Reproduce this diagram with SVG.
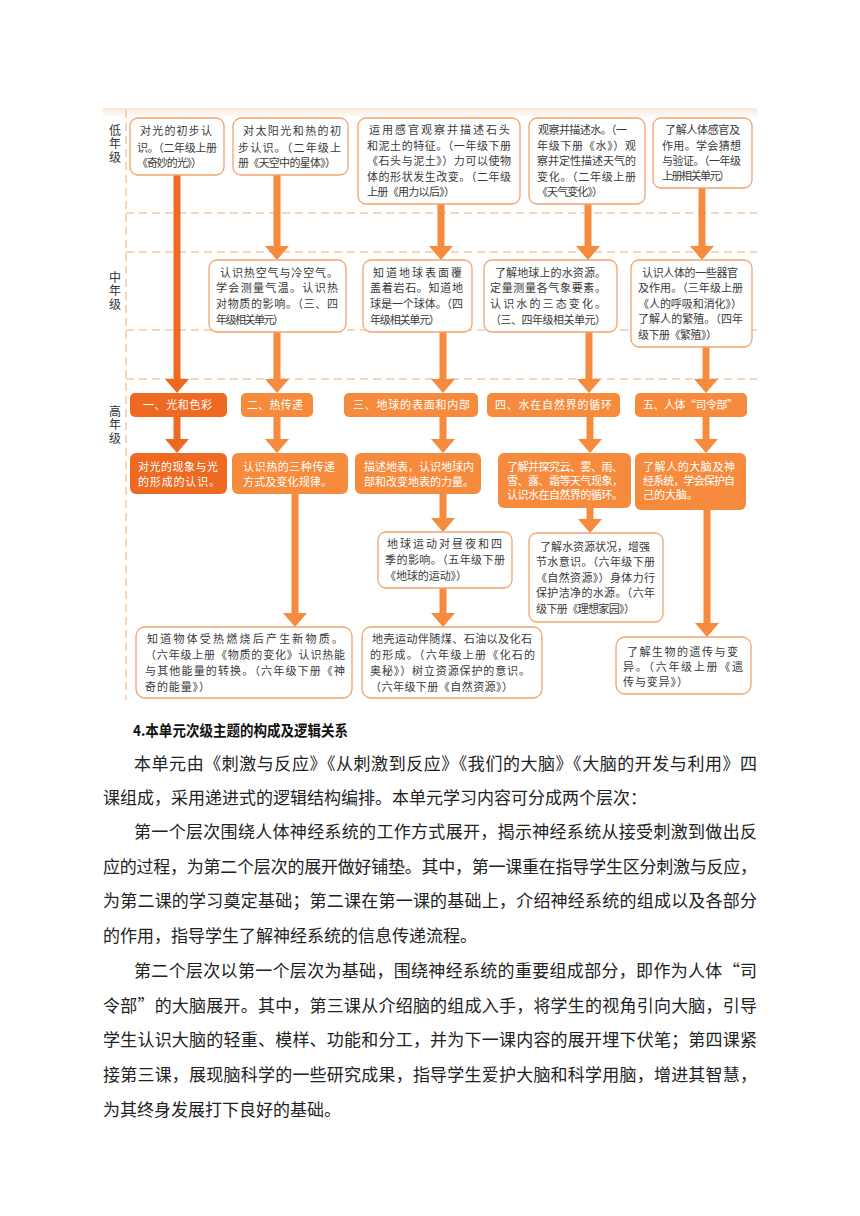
<svg xmlns="http://www.w3.org/2000/svg" width="860" height="1216" viewBox="0 0 860 1216">
<defs>
<linearGradient id="topband" x1="0" y1="0" x2="0" y2="1">
<stop offset="0" stop-color="#f9e6d6"/>
<stop offset="1" stop-color="#ffffff"/>
</linearGradient>
<style>
text{font-family:"Noto Sans CJK SC","Noto Sans",sans-serif;}
.t{font-size:11px;fill:#3a3a3a;}
.w{font-size:11px;fill:#ffffff;}
.lab{font-size:12px;fill:#333;writing-mode:vertical-rl;letter-spacing:1.5px;}
.box{fill:#ffffff;stroke:#f2a46e;stroke-width:1.3;}
.dk{fill:#ee6a23;}
.lt{fill:#f68b3e;}
.dash{stroke:#f6c7a3;stroke-width:1.5;stroke-dasharray:8 5;fill:none;}
.body{font-size:17px;fill:#222;}
.head{font-size:15px;font-weight:bold;fill:#111;}
</style>
</defs>
<rect x="0" y="0" width="860" height="1216" fill="#ffffff"/>
<rect x="103" y="108" width="654" height="10" fill="url(#topband)"/>

<g id="grid">
<line class="dash" x1="126" y1="110" x2="126" y2="700"/>
<line class="dash" x1="126" y1="213" x2="757" y2="213"/>
<line class="dash" x1="126" y1="252" x2="757" y2="252"/>
<line class="dash" x1="126" y1="330" x2="757" y2="330"/>
<line class="dash" x1="126" y1="379" x2="757" y2="379"/>
</g>

<g id="row-labels">
<text class="lab" x="115" y="124">低年级</text>
<text class="lab" x="115" y="271">中年级</text>
<text class="lab" x="115" y="405">高年级</text>
</g>

<g id="connectors">
<path class="dk" d="M173.5 175 H180.5 V379 H189 L177 393 L165 379 H173.5 Z"/>
<path class="dk" d="M173.5 417 H180.5 V439 H189 L177 453 L165 439 H173.5 Z"/>
<path class="lt" d="M273.5 175 H280.5 V246 H289 L277 260 L265 246 H273.5 Z"/>
<path class="lt" d="M273.5 332 H280.5 V379 H289 L277 393 L265 379 H273.5 Z"/>
<path class="lt" d="M273.5 417 H280.5 V439 H289 L277 453 L265 439 H273.5 Z"/>
<path class="lt" d="M291.5 494 H298.5 V613 H307 L295 627 L283 613 H291.5 Z"/>
<path class="lt" d="M437.5 204 H444.5 V246 H453 L441 260 L429 246 H437.5 Z"/>
<path class="lt" d="M439.5 332 H446.5 V379 H455 L443 393 L431 379 H439.5 Z"/>
<path class="lt" d="M439.5 417 H446.5 V439 H455 L443 453 L431 439 H439.5 Z"/>
<path class="lt" d="M439.5 494 H446.5 V518 H455 L443 532 L431 518 H439.5 Z"/>
<path class="lt" d="M439.5 588 H446.5 V613 H455 L443 627 L431 613 H439.5 Z"/>
<path class="lt" d="M584.5 204 H591.5 V246 H600 L588 260 L576 246 H584.5 Z"/>
<path class="lt" d="M585.5 332 H592.5 V379 H601 L589 393 L577 379 H585.5 Z"/>
<path class="lt" d="M586.5 417 H593.5 V439 H602 L590 453 L578 439 H586.5 Z"/>
<path class="lt" d="M586.5 508 H593.5 V519 H602 L590 533 L578 519 H586.5 Z"/>
<path class="lt" d="M698.5 188 H705.5 V246 H714 L702 260 L690 246 H698.5 Z"/>
<path class="lt" d="M702.5 347 H709.5 V379 H718 L706 393 L694 379 H702.5 Z"/>
<path class="lt" d="M702.5 417 H709.5 V439 H718 L706 453 L694 439 H702.5 Z"/>
<path class="lt" d="M703.5 510 H710.5 V623 H719 L707 637 L695 623 H703.5 Z"/>
</g>

<g id="low-1">
<rect class="box" x="130" y="118" width="94" height="57" rx="8"/>
<text class="t" x="140" y="135" textLength="72" lengthAdjust="spacing">对光的初步认</text>
<text class="t" x="137" y="152" textLength="80" lengthAdjust="spacing">识。（二年级上册</text>
<text class="t" x="137" y="167" textLength="65" lengthAdjust="spacing">《奇妙的光》）</text>
</g>
<g id="low-2">
<rect class="box" x="233" y="118" width="115" height="57" rx="8"/>
<text class="t" x="243" y="135" textLength="98" lengthAdjust="spacing">对太阳光和热的初</text>
<text class="t" x="238" y="152" textLength="103" lengthAdjust="spacing">步认识。（二年级上</text>
<text class="t" x="238" y="167" textLength="98" lengthAdjust="spacing">册《天空中的星体》）</text>
</g>
<g id="low-3">
<rect class="box" x="358" y="118" width="162" height="86" rx="8"/>
<text class="t" x="369" y="134" textLength="141" lengthAdjust="spacing">运用感官观察并描述石头</text>
<text class="t" x="367" y="150" textLength="144" lengthAdjust="spacing">和泥土的特征。（一年级下册</text>
<text class="t" x="367" y="165" textLength="144" lengthAdjust="spacing">《石头与泥土》）力可以使物</text>
<text class="t" x="367" y="181" textLength="144" lengthAdjust="spacing">体的形状发生改变。（二年级</text>
<text class="t" x="367" y="196" textLength="88" lengthAdjust="spacing">上册《用力以后》）</text>
</g>
<g id="low-4">
<rect class="box" x="529" y="118" width="116" height="86" rx="8"/>
<text class="t" x="538" y="134" textLength="89" lengthAdjust="spacing">观察并描述水。（一</text>
<text class="t" x="537" y="150" textLength="99" lengthAdjust="spacing">年级下册《水》）观</text>
<text class="t" x="537" y="165" textLength="99" lengthAdjust="spacing">察并定性描述天气的</text>
<text class="t" x="537" y="181" textLength="99" lengthAdjust="spacing">变化。（二年级上册</text>
<text class="t" x="537" y="196" textLength="66" lengthAdjust="spacing">《天气变化》）</text>
</g>
<g id="low-5">
<rect class="box" x="653" y="118" width="99" height="70" rx="8"/>
<text class="t" x="665" y="134" textLength="75" lengthAdjust="spacing">了解人体感官及</text>
<text class="t" x="662" y="150" textLength="79" lengthAdjust="spacing">作用。学会猜想</text>
<text class="t" x="662" y="165" textLength="79" lengthAdjust="spacing">与验证。（一年级</text>
<text class="t" x="662" y="180" textLength="68" lengthAdjust="spacing">上册相关单元）</text>
</g>

<g id="mid-2">
<rect class="box" x="209" y="260" width="137" height="72" rx="8"/>
<text class="t" x="220" y="277" textLength="118" lengthAdjust="spacing">认识热空气与冷空气。</text>
<text class="t" x="216" y="292" textLength="122" lengthAdjust="spacing">学会测量气温。认识热</text>
<text class="t" x="216" y="308" textLength="122" lengthAdjust="spacing">对物质的影响。（三、四</text>
<text class="t" x="216" y="324" textLength="68" lengthAdjust="spacing">年级相关单元）</text>
</g>
<g id="mid-3">
<rect class="box" x="363" y="260" width="109" height="72" rx="8"/>
<text class="t" x="373" y="277" textLength="89" lengthAdjust="spacing">知道地球表面覆</text>
<text class="t" x="370" y="292" textLength="93" lengthAdjust="spacing">盖着岩石。知道地</text>
<text class="t" x="370" y="308" textLength="93" lengthAdjust="spacing">球是一个球体。（四</text>
<text class="t" x="370" y="324" textLength="70" lengthAdjust="spacing">年级相关单元）</text>
</g>
<g id="mid-4">
<rect class="box" x="484" y="260" width="133" height="72" rx="8"/>
<text class="t" x="495" y="277" textLength="111" lengthAdjust="spacing">了解地球上的水资源。</text>
<text class="t" x="490" y="292" textLength="116" lengthAdjust="spacing">定量测量各气象要素。</text>
<text class="t" x="490" y="308" textLength="116" lengthAdjust="spacing">认识水的三态变化。</text>
<text class="t" x="490" y="324" textLength="116" lengthAdjust="spacing">（三、四年级相关单元）</text>
</g>
<g id="mid-5">
<rect class="box" x="631" y="260" width="121" height="87" rx="8"/>
<text class="t" x="642" y="277" textLength="96" lengthAdjust="spacing">认识人体的一些器官</text>
<text class="t" x="638" y="292" textLength="105" lengthAdjust="spacing">及作用。（三年级上册</text>
<text class="t" x="638" y="308" textLength="104" lengthAdjust="spacing">《人的呼吸和消化》）</text>
<text class="t" x="638" y="323" textLength="105" lengthAdjust="spacing">了解人的繁殖。（四年</text>
<text class="t" x="638" y="339" textLength="79" lengthAdjust="spacing">级下册《繁殖》）</text>
</g>

<g id="unit-1">
<rect class="dk" x="130" y="393" width="97" height="24" rx="5"/>
<text class="w" x="143" y="409" textLength="69" lengthAdjust="spacing">一、光和色彩</text>
</g>
<g id="unit-2">
<rect class="lt" x="241" y="393" width="72" height="24" rx="5"/>
<text class="w" x="247" y="409" textLength="56" lengthAdjust="spacing">二、热传递</text>
</g>
<g id="unit-3">
<rect class="lt" x="344" y="393" width="134" height="24" rx="5"/>
<text class="w" x="353" y="409" textLength="117" lengthAdjust="spacing">三、地球的表面和内部</text>
</g>
<g id="unit-4">
<rect class="lt" x="487" y="393" width="133" height="24" rx="5"/>
<text class="w" x="495" y="409" textLength="117" lengthAdjust="spacing">四、水在自然界的循环</text>
</g>
<g id="unit-5">
<rect class="lt" x="635" y="393" width="112" height="24" rx="5"/>
<text class="w" x="643" y="409" textLength="95" lengthAdjust="spacing">五、人体“司令部”</text>
</g>

<g id="goal-1">
<rect class="dk" x="130" y="453" width="97" height="41" rx="6"/>
<text class="w" x="138" y="471" textLength="80" lengthAdjust="spacing">对光的现象与光</text>
<text class="w" x="138" y="486" textLength="82" lengthAdjust="spacing">的形成的认识。</text>
</g>
<g id="goal-2">
<rect class="lt" x="232" y="453" width="116" height="41" rx="6"/>
<text class="w" x="243" y="471" textLength="92" lengthAdjust="spacing">认识热的三种传递</text>
<text class="w" x="243" y="486" textLength="89" lengthAdjust="spacing">方式及变化规律。</text>
</g>
<g id="goal-3">
<rect class="lt" x="355" y="453" width="126" height="41" rx="6"/>
<text class="w" x="364" y="471" textLength="110" lengthAdjust="spacing">描述地表，认识地球内</text>
<text class="w" x="364" y="486" textLength="110" lengthAdjust="spacing">部和改变地表的力量。</text>
</g>
<g id="goal-4">
<rect class="lt" x="498" y="453" width="133" height="55" rx="6"/>
<text class="w" x="507" y="471" textLength="116" lengthAdjust="spacing">了解并探究云、雾、雨、</text>
<text class="w" x="507" y="485" textLength="116" lengthAdjust="spacing">雪、露、霜等天气现象，</text>
<text class="w" x="507" y="499" textLength="116" lengthAdjust="spacing">认识水在自然界的循环。</text>
</g>
<g id="goal-5">
<rect class="lt" x="635" y="453" width="111" height="57" rx="6"/>
<text class="w" x="643" y="471" textLength="92" lengthAdjust="spacing">了解人的大脑及神</text>
<text class="w" x="643" y="485" textLength="92" lengthAdjust="spacing">经系统，学会保护自</text>
<text class="w" x="643" y="499" textLength="55" lengthAdjust="spacing">己的大脑。</text>
</g>

<g id="earth-motion">
<rect class="box" x="378" y="532" width="134" height="56" rx="8"/>
<text class="t" x="387" y="548" textLength="115" lengthAdjust="spacing">地球运动对昼夜和四</text>
<text class="t" x="385" y="564" textLength="120" lengthAdjust="spacing">季的影响。（五年级下册</text>
<text class="t" x="385" y="580" textLength="82" lengthAdjust="spacing">《地球的运动》）</text>
</g>
<g id="water-resources">
<rect class="box" x="529" y="533" width="134" height="89" rx="8"/>
<text class="t" x="540" y="551" textLength="110" lengthAdjust="spacing">了解水资源状况，增强</text>
<text class="t" x="536" y="566" textLength="119" lengthAdjust="spacing">节水意识。（六年级下册</text>
<text class="t" x="536" y="582" textLength="119" lengthAdjust="spacing">《自然资源》）身体力行</text>
<text class="t" x="536" y="597" textLength="119" lengthAdjust="spacing">保护洁净的水源。（六年</text>
<text class="t" x="536" y="613" textLength="99" lengthAdjust="spacing">级下册《理想家园》）</text>
</g>
<g id="heat-energy">
<rect class="box" x="136" y="627" width="216" height="71" rx="9"/>
<text class="t" x="147" y="643" textLength="196" lengthAdjust="spacing">知道物体受热燃烧后产生新物质。</text>
<text class="t" x="145" y="659" textLength="200" lengthAdjust="spacing">（六年级上册《物质的变化》认识热能</text>
<text class="t" x="145" y="675" textLength="200" lengthAdjust="spacing">与其他能量的转换。（六年级下册《神</text>
<text class="t" x="145" y="691" textLength="65" lengthAdjust="spacing">奇的能量》）</text>
</g>
<g id="crust-motion">
<rect class="box" x="362" y="627" width="180" height="71" rx="9"/>
<text class="t" x="372" y="643" textLength="160" lengthAdjust="spacing">地壳运动伴随煤、石油以及化石</text>
<text class="t" x="370" y="659" textLength="165" lengthAdjust="spacing">的形成。（六年级上册《化石的</text>
<text class="t" x="370" y="675" textLength="160" lengthAdjust="spacing">奥秘》）树立资源保护的意识。</text>
<text class="t" x="370" y="691" textLength="143" lengthAdjust="spacing">（六年级下册《自然资源》）</text>
</g>
<g id="heredity">
<rect class="box" x="616" y="637" width="135" height="57" rx="9"/>
<text class="t" x="627" y="656" textLength="111" lengthAdjust="spacing">了解生物的遗传与变</text>
<text class="t" x="623" y="671" textLength="120" lengthAdjust="spacing">异。（六年级上册《遗</text>
<text class="t" x="623" y="686" textLength="65" lengthAdjust="spacing">传与变异》）</text>
</g>

<g id="body-text">
<text class="head" x="133" y="736" textLength="215" lengthAdjust="spacingAndGlyphs">4.本单元次级主题的构成及逻辑关系</text>
<text class="body" x="134" y="770" textLength="623" lengthAdjust="spacing">本单元由《刺激与反应》《从刺激到反应》《我们的大脑》《大脑的开发与利用》四</text>
<text class="body" x="103" y="804">课组成，采用递进式的逻辑结构编排。本单元学习内容可分成两个层次：</text>
<text class="body" x="134" y="838" textLength="623" lengthAdjust="spacing">第一个层次围绕人体神经系统的工作方式展开，揭示神经系统从接受刺激到做出反</text>
<text class="body" x="103" y="873" textLength="654" lengthAdjust="spacing">应的过程，为第二个层次的展开做好铺垫。其中，第一课重在指导学生区分刺激与反应，</text>
<text class="body" x="103" y="907" textLength="654" lengthAdjust="spacing">为第二课的学习奠定基础；第二课在第一课的基础上，介绍神经系统的组成以及各部分</text>
<text class="body" x="103" y="942">的作用，指导学生了解神经系统的信息传递流程。</text>
<text class="body" x="134" y="977" textLength="623" lengthAdjust="spacing">第二个层次以第一个层次为基础，围绕神经系统的重要组成部分，即作为人体“司</text>
<text class="body" x="103" y="1012" textLength="654" lengthAdjust="spacing">令部”的大脑展开。其中，第三课从介绍脑的组成入手，将学生的视角引向大脑，引导</text>
<text class="body" x="103" y="1046" textLength="654" lengthAdjust="spacing">学生认识大脑的轻重、模样、功能和分工，并为下一课内容的展开埋下伏笔；第四课紧</text>
<text class="body" x="103" y="1081" textLength="654" lengthAdjust="spacing">接第三课，展现脑科学的一些研究成果，指导学生爱护大脑和科学用脑，增进其智慧，</text>
<text class="body" x="103" y="1116">为其终身发展打下良好的基础。</text>
</g>
</svg>
